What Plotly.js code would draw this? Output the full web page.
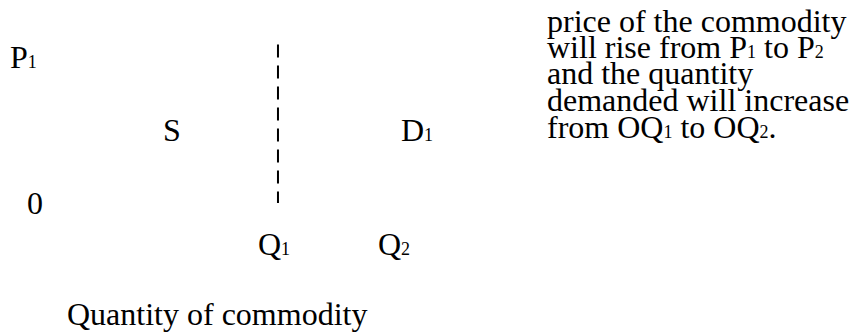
<!DOCTYPE html>
<html>
<head>
<meta charset="utf-8">
<script src="https://cdn.plot.ly/plotly-3.0.1.min.js"></script>
<style>
  html, body { margin: 0; padding: 0; background: #fff; }
  #chart { width: 852px; height: 334px; }
</style>
</head>
<body>
<div id="chart"></div>
<script>
// ---- data ----
const quantities = [4, 6];                 // Q1, Q2
const quantityLabels = ["Q_1", "Q_2"];
const prices = [6];                        // P1
const priceLabels = ["P_1"];
const dashQ = [4, 4];                      // dashed guide at Q1
const dashP = [6.6, 0];
const curveLabels = ["S", "D_1"];
const originLabel = "0";
const xTitle = "Quantity of commodity";
const noteLines = [
  "price of the commodity",
  "will rise from P_1 to P_2",
  "and the quantity",
  "demanded will increase",
  "from OQ_1 to OQ_2."
];

// ---- layout ----
const FONT = {family: "Liberation Serif, Times New Roman, serif", size: 32, color: "#000"};
// small subscript digits sitting near the baseline, as in the reference
function fmt(s) {
  return s.replace(/_(\d)/g, '<span style="font-size:18px">$1</span>');
}
const annotations = [];
function txt(x, y, text, xanchor) {
  annotations.push({x: x, y: y, xref: "x", yref: "y", text: fmt(text), showarrow: false,
    xanchor: xanchor || "center", yanchor: "middle", font: FONT});
}
// price label on the vertical axis
priceLabels.forEach((t, i) => txt(-0.24, prices[i] + 0.08, t));
// origin
txt(-0.05, 0, originLabel);
// curve labels
txt(2.23, 3.04, curveLabels[0]);
txt(6.31, 3.04, curveLabels[1]);
// quantity labels
quantityLabels.forEach((t, i) => txt(quantities[i] - 0.07, -1.72, t));
// axis title
txt(2.98, -4.62, xTitle);
// explanatory note
const noteY = [7.6, 6.5, 5.4, 4.29, 3.17];
noteLines.forEach((t, i) => txt(8.45, noteY[i], t, "left"));

const traces = [{
  x: dashQ, y: dashP, mode: "lines", type: "scatter",
  line: {color: "#000", width: 2, dash: "13px,8px"}, hoverinfo: "skip"
}];

const layout = {
  width: 852, height: 334,
  margin: {l: 0, r: 0, t: 0, b: 0},
  paper_bgcolor: "#fff", plot_bgcolor: "#fff",
  showlegend: false,
  xaxis: {range: [-0.633, 13.567], visible: false, fixedrange: true},
  yaxis: {range: [-5.458, 8.458], visible: false, fixedrange: true},
  annotations: annotations
};

Plotly.newPlot("chart", traces, layout, {staticPlot: true, displayModeBar: false});
</script>
</body>
</html>
